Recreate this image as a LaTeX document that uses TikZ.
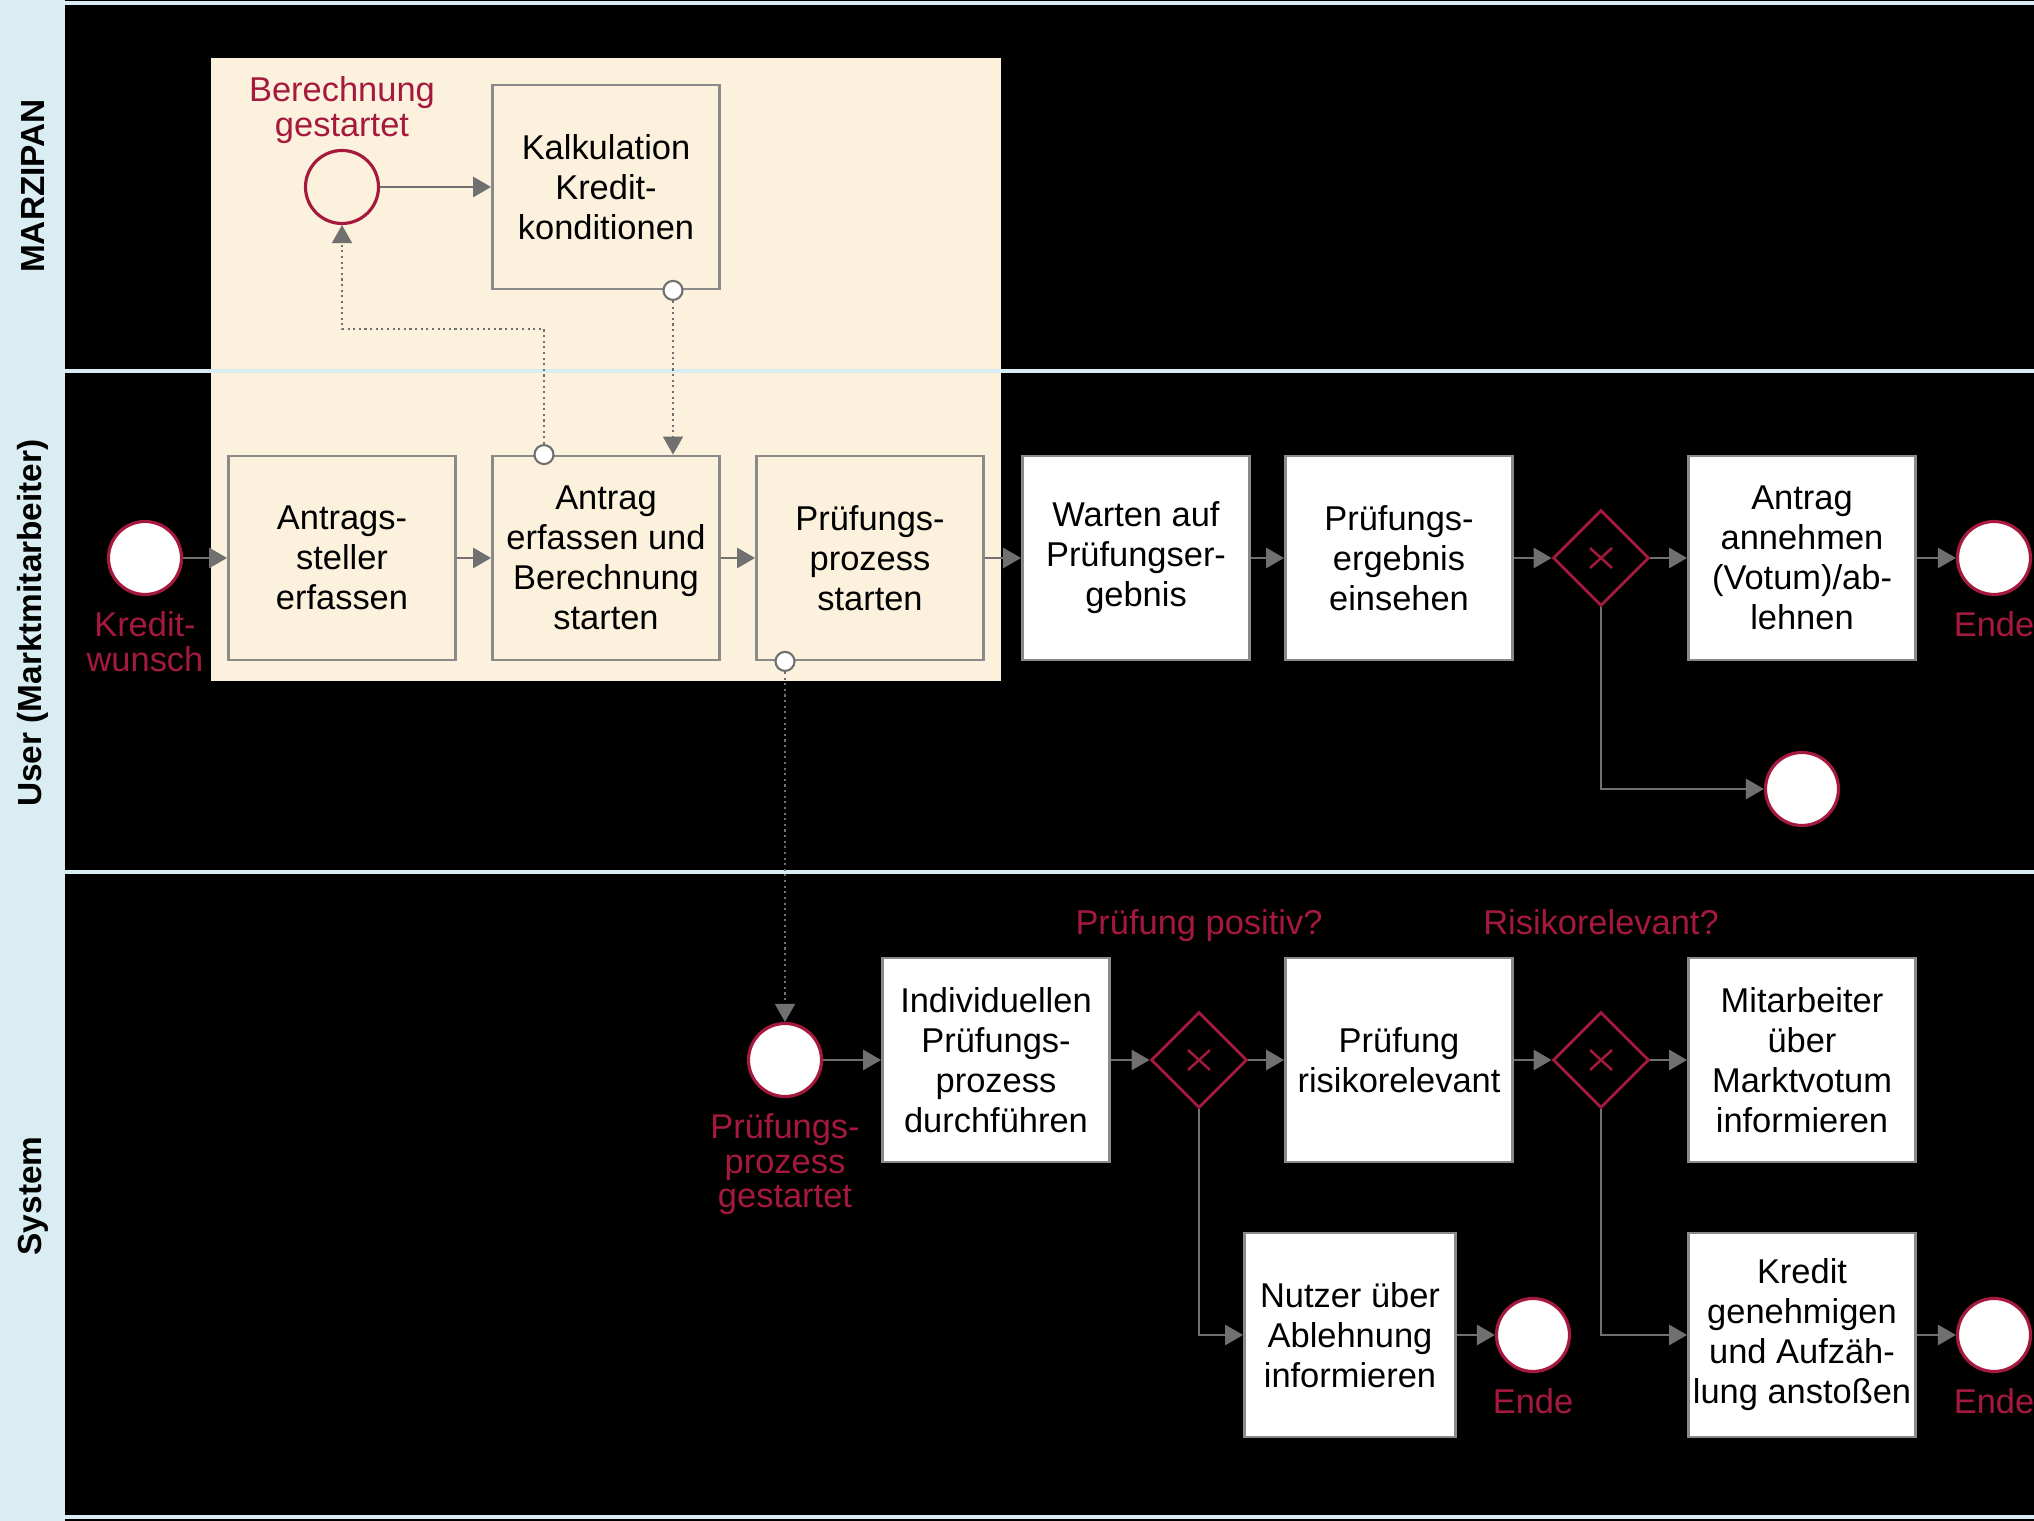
\documentclass[tikz,border=0pt]{standalone}
\usepackage{fontspec}
\setmainfont{Liberation Sans}
\usetikzlibrary{arrows.meta,positioning,calc,shapes.geometric}
\definecolor{Cream}{HTML}{FBF1DC}
\definecolor{Lane}{HTML}{DAEDF2}
\definecolor{Wine}{HTML}{A6193E}
\definecolor{Flow}{HTML}{707070}
\definecolor{Frame}{HTML}{8A8A8A}

\begin{document}
\begin{tikzpicture}[font=\fontsize{9.8}{11.4}\selectfont,
    task/.style={draw=Frame,line width=0.8pt,fill=white,minimum width=2.27cm,minimum height=2.04cm,align=center,inner sep=1pt},
    event/.style={circle,draw=Wine,line width=0.9pt,fill=white,minimum size=0.73cm,inner sep=0pt},
    gate/.style={diamond,draw=Wine,line width=0.8pt,minimum width=0.96cm,minimum height=0.96cm,inner sep=0pt},
    note/.style={text=Wine,align=center,font=\fontsize{9.8}{9.8}\selectfont},
    flow/.style={draw=Flow,line width=0.8pt,-{Triangle[length=0.18cm,width=0.2cm]}},
    msg/.style={draw=Flow,line width=0.5pt,dash pattern=on 0.6pt off 1pt,-{Triangle[length=0.18cm,width=0.2cm]}},
    port/.style={circle,draw=Flow,fill=white,line width=0.6pt,minimum size=0.19cm,inner sep=0pt},
    lane/.style={rotate=90,font=\fontsize{9.5}{11}\selectfont\bfseries}]
    \useasboundingbox (0,0) rectangle (20.34,15.21);
    \fill (0,0) rectangle (20.34,15.21);
    \fill[Lane] (0,0) rectangle (0.65,15.21);
    \fill[Cream] (2.11,8.40) rectangle (10.01,14.63);
    \foreach \y in {15.18,11.50,6.49,0.04}{
      \draw[Lane,line width=1.2pt] (0,\y) -- (20.34,\y);
    }
    \node[lane] (L1) at (0.33,13.35) {MARZIPAN};
    \node[lane] (L2) at (0.33,8.98) {User (Marktmitarbeiter)};
    \node[lane] (L3) at (0.33,3.25) {System};

    \node[event,fill=Cream] (S2) at (3.42,13.34) {};
    \node[note,above=-0.07cm of S2] (S2l) {Berechnung\\gestartet};
    \node[task,fill=Cream] (K) at (6.06,13.34) {Kalkulation\\Kredit-\\konditionen};

    \node[event] (S1) at (1.45,9.63) {};
    \node[note,below=1pt of S1] (S1l) {Kredit-\\wunsch};
    \node[task,fill=Cream] (A1) at (3.42,9.63) {Antrags-\\steller\\erfassen};
    \node[task,fill=Cream] (A2) at (6.06,9.63) {Antrag\\erfassen und\\Berechnung\\starten};
    \node[task,fill=Cream] (A3) at (8.70,9.63) {Prüfungs-\\prozess\\starten};
    \node[task] (A4) at (11.36,9.63) {Warten auf\\Prüfungser-\\gebnis};
    \node[task] (A5) at (13.99,9.63) {Prüfungs-\\ergebnis\\einsehen};
    \node[gate] (G1) at (16.01,9.63) {};
    \node[task] (A6) at (18.02,9.63) {Antrag\\annehmen\\(Votum)/ab-\\lehnen};
    \node[event] (E1) at (19.94,9.63) {};
    \node[note,below=1pt of E1] (E1l) {Ende};
    \node[event] (E2) at (18.02,7.32) {};

    \node[event] (S3) at (7.85,4.61) {};
    \node[note,below=1pt of S3] (S3l) {Prüfungs-\\prozess\\gestartet};
    \node[task] (B1) at (9.96,4.61) {Individuellen\\Prüfungs-\\prozess\\durchführen};
    \node[gate] (G2) at (11.99,4.61) {};
    \node[note,anchor=base] (G2l) at (11.99,5.86) {Prüfung positiv?};
    \node[task] (B2) at (13.99,4.61) {Prüfung\\risikorelevant};
    \node[gate] (G3) at (16.01,4.61) {};
    \node[note,anchor=base] (G3l) at (16.01,5.86) {Risikorelevant?};
    \node[task] (B3) at (18.02,4.61) {Mitarbeiter\\über\\Marktvotum\\informieren};
    \node[task,minimum width=2.11cm] (B4) at (13.50,1.86) {Nutzer über\\Ablehnung\\informieren};
    \node[event] (E3) at (15.33,1.86) {};
    \node[note,below=1pt of E3] (E3l) {Ende};
    \node[task] (B5) at (18.02,1.86) {Kredit\\genehmigen\\und Aufzäh-\\lung anstoßen};
    \node[event] (E4) at (19.94,1.86) {};
    \node[note,below=1pt of E4] (E4l) {Ende};

    \foreach \g in {G1,G2,G3}{
      \draw[Wine,line width=0.7pt] ([shift={(-0.11,-0.1)}]\g.center) -- ([shift={(0.11,0.1)}]\g.center)
        ([shift={(-0.11,0.1)}]\g.center) -- ([shift={(0.11,-0.1)}]\g.center);
    }

    \draw[flow] (S2) -- (K);
    \draw[flow] (S1) -- (A1);
    \draw[flow] (A1) -- (A2);
    \draw[flow] (A2) -- (A3);
    \draw[flow] (A3) -- (A4);
    \draw[flow] (A4) -- (A5);
    \draw[flow] (A5) -- (G1);
    \draw[flow] (G1) -- (A6);
    \draw[flow] (A6) -- (E1);
    \draw[flow] (G1) |- (E2);
    \draw[flow] (S3) -- (B1);
    \draw[flow] (B1) -- (G2);
    \draw[flow] (G2) -- (B2);
    \draw[flow] (B2) -- (G3);
    \draw[flow] (G3) -- (B3);
    \draw[flow] (G2) |- (B4);
    \draw[flow] (B4) -- (E3);
    \draw[flow] (G3) |- (B5);
    \draw[flow] (B5) -- (E4);

    \node[port] (p1) at ([xshift=-0.62cm]A2.north) {};
    \node[port] (p2) at ([xshift=0.67cm]K.south) {};
    \node[port] (p3) at (S3 |- A3.south) {};
    \draw[msg] (p1.north) -- ++(0,1.15) -| (S2.south);
    \draw[msg] (p2.south) -- (p2.south |- A2.north);
    \draw[msg] (p3.south) -- (S3.north);
  \end{tikzpicture}
\end{document}
